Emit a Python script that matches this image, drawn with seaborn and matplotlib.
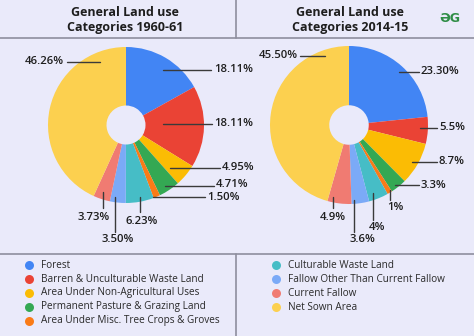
import matplotlib
matplotlib.use("Agg")
import matplotlib.pyplot as plt
import seaborn as sns

# ---------------- data ----------------
categories = [
    "Forest",
    "Barren & Unculturable Waste Land",
    "Area Under Non-Agricultural Uses",
    "Permanent Pasture & Grazing Land",
    "Area Under Misc. Tree Crops & Groves",
    "Culturable Waste Land",
    "Fallow Other Than Current Fallow",
    "Current Fallow",
    "Net Sown Area",
]
share_1960 = [18.11, 18.11, 4.95, 4.71, 1.50, 6.23, 3.50, 3.73, 46.26]
share_2014 = [23.30, 5.5, 8.7, 3.3, 1.0, 4.0, 3.6, 4.9, 45.50]
labels_1960 = ["18.11%", "18.11%", "4.95%", "4.71%", "1.50%", "6.23%", "3.50%", "3.73%", "46.26%"]
labels_2014 = ["23.30%", "5.5%", "8.7%", "3.3%", "1%", "4%", "3.6%", "4.9%", "45.50%"]
titles = ["General Land use\nCategories 1960-61", "General Land use\nCategories 2014-15"]

# ---------------- style ----------------
sns.set_style("white")
plt.rcParams["font.family"] = ["Open Sans", "DejaVu Sans"]
BG = "#EAEAFA"
GRID = "#8E8E9E"
TXT = "#1E1E1E"
palette = sns.color_palette([
    "#4285F4", "#EA4335", "#FBBC04", "#34A853", "#FA7B17",
    "#46BDC6", "#7BAAF7", "#F07B72", "#FCD04F",
])

W, H = 474, 336
fig = plt.figure(figsize=(W / 100, H / 100), dpi=100, facecolor=BG)

# pixel overlay axes
ov = fig.add_axes([0, 0, 1, 1], zorder=5)
ov.set_xlim(0, W)
ov.set_ylim(H, 0)
ov.axis("off")
ov.patch.set_alpha(0)

# frame lines
ov.plot([0, W], [38, 38], color=GRID, lw=1.2)
ov.plot([0, W], [254, 254], color=GRID, lw=1.2)
ov.plot([236.5, 236.5], [0, 38], color=GRID, lw=1.2)
ov.plot([236.5, 236.5], [254, H], color=GRID, lw=1.2)

# pies: (center x, center y, radius) in pixels
pie_geom = [(126, 125, 78), (349, 125, 79)]
title_x = [125, 350]

# leader layout (pixels): x0, y0, x1, y1, tx, ty, ha
layout_1960 = [
    (163, 70, 211, 70, 214, 70, "left"),
    (163, 124, 212, 124, 214, 124, "left"),
    (170, 168, 220, 168, 222, 168, "left"),
    (165, 186, 214, 186, 216, 184.5, "left"),
    (153, 197, 205, 197, 207, 198, "left"),
    (140, 197, 140, 212, 142, 221, "center"),
    (115, 197, 115, 232, 118, 240, "center"),
    (103, 192, 103, 208, 94, 218, "center"),
    (100, 62, 67, 62, 64, 62, "right"),
]
layout_2014 = [
    (399, 72, 419, 72, 421, 72, "left"),
    (420, 128, 437, 128, 439, 128, "left"),
    (412, 162, 437, 162, 439, 162, "left"),
    (395, 185, 419, 185, 421, 185, "left"),
    (390, 190, 390, 200, 395, 207, "center"),
    (373, 193, 373, 220, 377, 228, "center"),
    (354, 200, 354, 232, 362, 239, "center"),
    (333, 197, 333, 208, 333, 217, "center"),
    (325, 56, 300, 56, 298, 56, "right"),
]

for (cx, cy, r), vals, labs, lay, title, tx in zip(
        pie_geom, [share_1960, share_2014], [labels_1960, labels_2014],
        [layout_1960, layout_2014], titles, title_x):
    ax = fig.add_axes([(cx - r) / W, (H - cy - r) / H, 2 * r / W, 2 * r / H])
    ax.pie(vals, colors=palette, startangle=90, counterclock=False,
           wedgeprops=dict(width=0.75, linewidth=0), radius=1)
    ax.set_xlim(-1, 1)
    ax.set_ylim(-1, 1)
    ax.set_aspect("auto")
    ax.axis("off")
    ax.patch.set_alpha(0)
    for (x0, y0, x1, y1, lx, ly, ha), lab in zip(lay, labs):
        ov.plot([x0, x1], [y0, y1], color="#3A3A3A", lw=1.0)
        ov.text(lx, ly, lab, ha=ha, va="center", fontsize=8.2,
                fontweight="semibold", color=TXT)
    ov.text(tx, 20, title, ha="center", va="center", fontsize=9,
            fontweight="bold", color=TXT, linespacing=1.15)

# logo
ov.text(450, 18.5, "ƏG", ha="center", va="center", fontsize=9,
        fontweight="bold", color="#2F8D46", family=["DejaVu Sans"])

# legend
rows_y = [265, 279, 293, 307, 321]
for i, (cat, col) in enumerate(zip(categories, palette)):
    if i < 5:
        mx, ty = 29, rows_y[i]
    else:
        mx, ty = 276, rows_y[i - 5]
    ov.scatter([mx], [ty], s=42, color=col, linewidths=0)
    ov.text(mx + 12, ty, cat, ha="left", va="center", fontsize=7.2,
            color="#2A2A2A", fontweight="medium")

fig.savefig("out.png", dpi=100, facecolor=BG)
